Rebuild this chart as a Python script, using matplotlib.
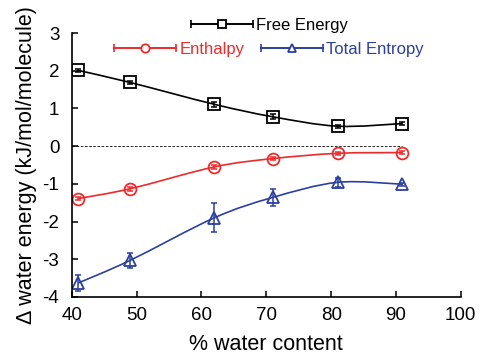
import matplotlib
matplotlib.use("Agg")
import matplotlib.pyplot as plt
from matplotlib.path import Path
from matplotlib.patches import PathPatch
from matplotlib.lines import Line2D
from matplotlib.legend_handler import HandlerLine2D, HandlerTuple

plt.rcParams["font.family"] = ["Liberation Sans", "DejaVu Sans"]
plt.rcParams["axes.unicode_minus"] = False

# data
water = [41, 49, 62, 71, 81, 91]
free_energy = [2.01, 1.69, 1.11, 0.78, 0.53, 0.60]
free_energy_err = [0.05, 0.05, 0.06, 0.07, 0.04, 0.03]
enthalpy = [-1.39, -1.13, -0.55, -0.33, -0.19, -0.17]
enthalpy_err = [0.05, 0.05, 0.06, 0.05, 0.04, 0.03]
entropy = [-3.63, -3.03, -1.90, -1.36, -0.96, -1.01]
entropy_err = [0.22, 0.20, 0.38, 0.23, 0.12, 0.04]

labels = ["Free Energy", "Enthalpy", "Total Entropy"]
BLACK = "#000000"
RED = "#ee2a2a"
BLUE = "#2b3f9f"


def smooth_path(xs, ys):
    # Catmull-Rom style bezier, like a spreadsheet "smoothed line"
    pts = list(zip(xs, ys))
    verts = [pts[0]]
    codes = [Path.MOVETO]
    n = len(pts)
    for i in range(n - 1):
        p0 = pts[i - 1] if i > 0 else pts[i]
        p1 = pts[i]
        p2 = pts[i + 1]
        p3 = pts[i + 2] if i + 2 < n else pts[i + 1]
        c1 = (p1[0] + (p2[0] - p0[0]) / 6, p1[1] + (p2[1] - p0[1]) / 6)
        c2 = (p2[0] - (p3[0] - p1[0]) / 6, p2[1] - (p3[1] - p1[1]) / 6)
        verts += [c1, c2, p2]
        codes += [Path.CURVE4] * 3
    return Path(verts, codes)


fig = plt.figure(figsize=(4.82, 3.56), dpi=100)
ax = fig.add_axes([0.149, 0.166, 0.807, 0.741])

ax.plot([40, 91], [0, 0], color="black", linestyle=(0, (3, 2)), linewidth=0.6)

series = [
    (free_energy, free_energy_err, BLACK, "s", 9, 6.3),
    (enthalpy, enthalpy_err, RED, "o", 8.5, 6.0),
    (entropy, entropy_err, BLUE, "^", 8.5, 6.3),
]
for ys, err, color, marker, ms, _ in series:
    ax.add_patch(PathPatch(smooth_path(water, ys), facecolor="none",
                           edgecolor=color, linewidth=1.2))
    ax.errorbar(water, ys, yerr=err, fmt="none", ecolor=color,
                elinewidth=1.1, capsize=2.5, capthick=1.1)
    ax.plot(water, ys, linestyle="none", marker=marker, markersize=ms,
            markerfacecolor="none", markeredgecolor=color, markeredgewidth=1.3)

ax.set_xlim(40, 100)
ax.set_ylim(-4, 3)
ax.set_xticks([40, 50, 60, 70, 80, 90, 100])
ax.set_yticks([-4, -3, -2, -1, 0, 1, 2, 3])
ax.spines["top"].set_visible(False)
ax.spines["right"].set_visible(False)
for s in ("left", "bottom"):
    ax.spines[s].set_linewidth(1.2)
ax.tick_params(direction="in", length=4, width=1.1, labelsize=13.5)
ax.tick_params(axis="y", pad=9)
ax.tick_params(axis="x", pad=7)
ax.set_xlabel("% water content", fontsize=15.5, labelpad=7.5)
ax.set_ylabel("Δ water energy (kJ/mol/molecule)", fontsize=15.5, labelpad=4)


handles = []
hmap = {tuple: HandlerTuple(ndivide=1, pad=0)}
for ys, err, color, marker, ms, lms in series:
    caps = Line2D([], [], color=color, linewidth=1.2, marker="|",
                  markersize=5.5, markeredgewidth=1.2)
    mark = Line2D([], [], color=color, linewidth=1.2, marker=marker,
                  markersize=lms, markerfacecolor="white",
                  markeredgecolor=color, markeredgewidth=1.3)
    hmap[caps] = HandlerLine2D(numpoints=2, marker_pad=0)
    hmap[mark] = HandlerLine2D(numpoints=1)
    handles.append((caps, mark))

common = dict(frameon=False, fontsize=12, handlelength=3.7, handletextpad=0.2,
              borderpad=0, borderaxespad=0, loc="center", handler_map=hmap)
leg1 = fig.legend([handles[0]], [labels[0]], bbox_to_anchor=(0.56, 0.928), **common)
leg2 = fig.legend(handles[1:], labels[1:], ncol=2, columnspacing=1.0,
                  bbox_to_anchor=(0.558, 0.861), **common)
for t, c in zip(leg1.get_texts(), [BLACK]):
    t.set_color(c)
for t, c in zip(leg2.get_texts(), [RED, BLUE]):
    t.set_color(c)

fig.savefig("out.png", dpi=100)
